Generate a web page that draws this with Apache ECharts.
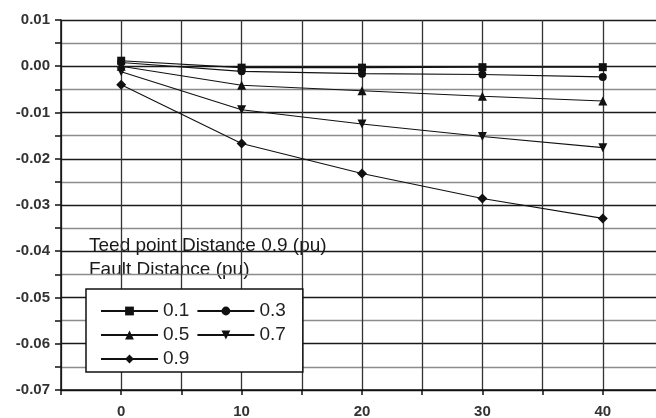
<!DOCTYPE html>
<html>
<head>
<meta charset="utf-8">
<script src="https://cdn.jsdelivr.net/npm/echarts@6/dist/echarts.min.js"></script>
<style>
  html, body { margin: 0; padding: 0; background: #fff; }
  #chart { width: 656px; height: 418px; }
</style>
</head>
<body>
<div id="chart"></div>
<script>
// x positions (horizontal axis values)
const xValues = [0, 10, 20, 30, 40];

// Fault distance series (pu)
const seriesNames = ['0.1', '0.3', '0.5', '0.7', '0.9'];
const fault01 = [0.0012, -0.0003, -0.0003, -0.0002, -0.0002];
const fault03 = [0.0008, -0.0011, -0.0016, -0.0018, -0.0023];
const fault05 = [0.0000, -0.0041, -0.0053, -0.0065, -0.0075];
const fault07 = [-0.0012, -0.0094, -0.0125, -0.0152, -0.0176];
const fault09 = [-0.0040, -0.0167, -0.0232, -0.0286, -0.0329];

const seriesValues = [fault01, fault03, fault05, fault07, fault09];
const seriesSymbols = ['rect', 'circle', 'triangle', 'triangle', 'diamond'];
const seriesRotate = [0, 0, 0, 180, 0];
const seriesSymbolSize = [8, 8, 9, 9, 10];

const titleLines = ['Teed point Distance 0.9 (pu)', 'Fault Distance (pu)'];

const font = '"Liberation Sans", Arial, sans-serif';

const chart = echarts.init(document.getElementById('chart'));

const series = seriesNames.map((name, i) => ({
  name: name,
  type: 'line',
  data: xValues.map((x, j) => [x, seriesValues[i][j]]),
  symbol: seriesSymbols[i],
  symbolRotate: seriesRotate[i],
  symbolSize: seriesSymbolSize[i],
  showAllSymbol: true,
  lineStyle: { color: '#111', width: 1.1 },
  itemStyle: { color: '#111' },
  z: 5,
  animation: false
}));

chart.setOption({
  animation: false,
  backgroundColor: '#fff',
  grid: { left: 61, top: 20, width: 602, height: 370, containLabel: false, outerBoundsMode: 'none' },
  xAxis: {
    type: 'value',
    min: -5,
    max: 45,
    interval: 5,
    axisLine: { show: true, onZero: false, lineStyle: { color: '#111', width: 1.5 } },
    axisTick: { show: true, length: 5, lineStyle: { color: '#111', width: 1.5 } },
    axisLabel: {
      color: '#333', fontFamily: font, fontSize: 15, fontWeight: 'bold', margin: 14,
      formatter: v => (Math.round(v) % 10 === 0 && v >= 0 && v <= 40) ? String(Math.round(v)) : ''
    },
    splitLine: { show: true, lineStyle: { color: '#333', width: 1.3 } }
  },
  yAxis: {
    type: 'value',
    min: -0.07,
    max: 0.01,
    interval: 0.005,
    axisLine: { show: true, onZero: false, lineStyle: { color: '#111', width: 1.5 } },
    axisTick: { show: true, length: 6, lineStyle: { color: '#111', width: 1.5 } },
    axisLabel: {
      color: '#333', fontFamily: font, fontSize: 15, fontWeight: 'bold', margin: 11,
      formatter: v => {
        const k = Math.round(v * 200);
        if (k % 2 !== 0) return '';
        return (k / 200).toFixed(2);
      }
    },
    splitLine: { show: true, lineStyle: { color: ['#1a1a1a', '#8c8c8c'], width: 1.3 } }
  },
  legend: {
    left: 86,
    top: 289,
    width: 200,
    orient: 'horizontal',
    padding: [12, 14, 3, 14],
    itemGap: 4,
    itemWidth: 57,
    itemHeight: 11,
    backgroundColor: '#fff',
    borderColor: '#111',
    borderWidth: 1.5,
    borderRadius: 0,
    textStyle: { color: '#222', fontFamily: font, fontSize: 19, padding: [0, 3, 0, 0], lineHeight: 20 },
    data: seriesNames
  },
  graphic: titleLines.map((t, i) => ({
    type: 'text',
    left: 89,
    top: 236 + i * 24.5,
    style: { text: t, fill: '#1a1a1a', font: '19px ' + font }
  })),
  series: series
});
</script>
</body>
</html>
